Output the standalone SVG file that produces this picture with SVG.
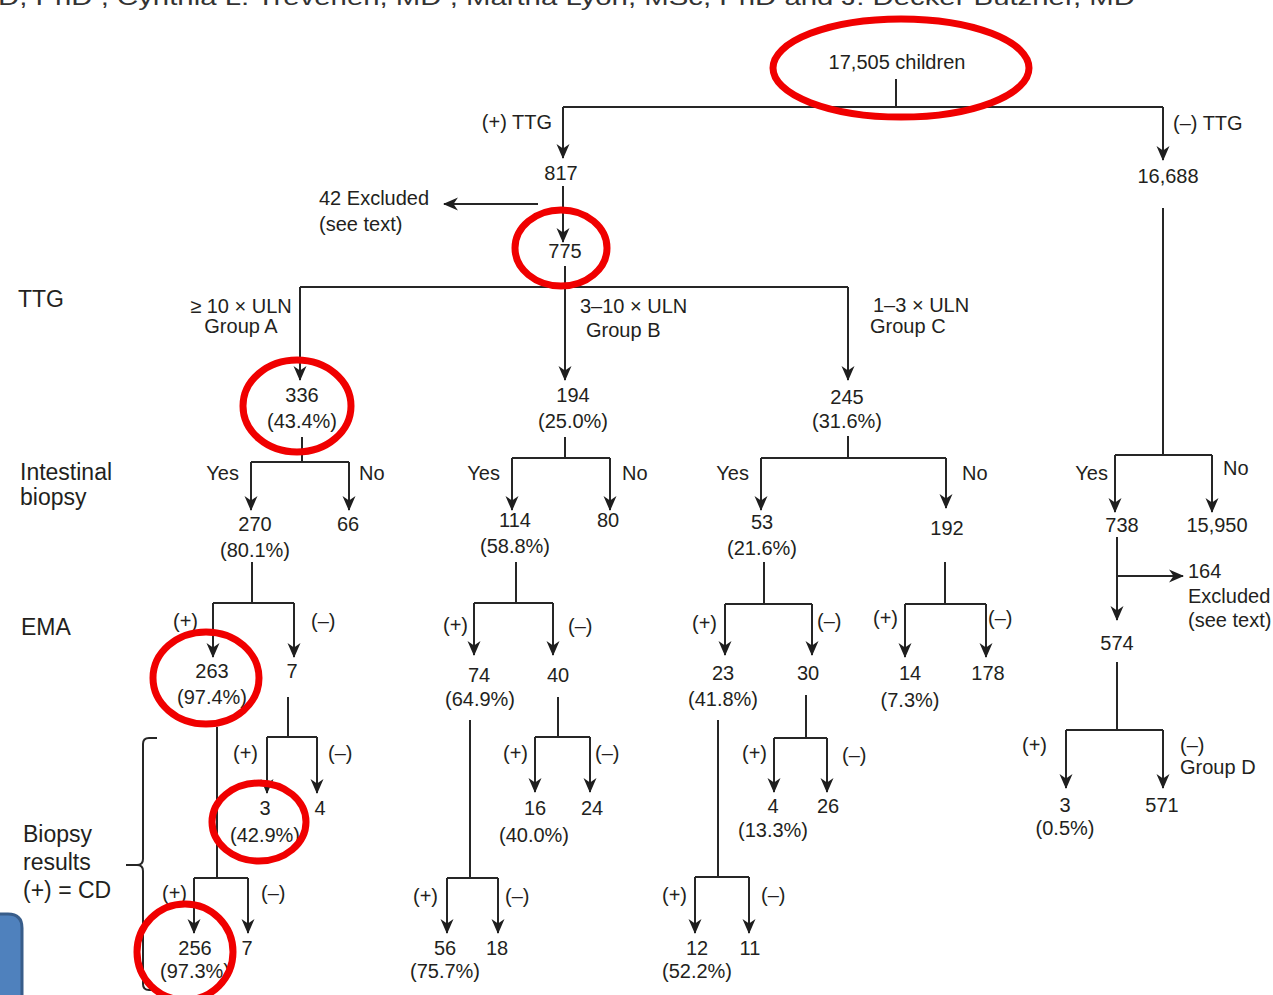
<svg xmlns="http://www.w3.org/2000/svg" width="1273" height="995" viewBox="0 0 1273 995">
  <style>
    text { font-family: "Liberation Sans", Arial, Helvetica, sans-serif; fill: #231f20; }
    .n { font-size: 20px; text-anchor: middle; }
    .l { font-size: 20px; }
    .e { font-size: 20px; text-anchor: end; }
    .row { font-size: 23px; }
    .hdr { font-size: 22px; fill: #333; }
    .wire { fill: none; stroke: #262626; stroke-width: 2; }
    .arr { fill: none; stroke: #262626; stroke-width: 2; marker-end: url(#ah); }
    .ring { fill: none; stroke: #f00000; stroke-width: 7; }
  </style>
  <defs>
    <marker id="ah" viewBox="0 -7 16 14" refX="14" refY="0" markerWidth="16" markerHeight="14" markerUnits="userSpaceOnUse" orient="auto">
      <path d="M0,-6.5 L15,0 L0,6.5 L4.5,0 z" fill="#1e1e1e"/>
    </marker>
  </defs>

  <rect width="1273" height="995" fill="#ffffff"/>

  <!-- author line, mostly cut off at the top edge -->
  <text class="hdr" x="-2" y="5" textLength="1137" lengthAdjust="spacingAndGlyphs">D, PhD , Cynthia L. Trevenen, MD , Martha Lyon, MSc, PhD  and J. Decker Butzner, MD</text>

  <!-- row captions -->
  <g id="row-labels">
    <text class="row" x="18" y="307">TTG</text>
    <text class="row" x="20" y="480">Intestinal</text>
    <text class="row" x="20" y="505">biopsy</text>
    <text class="row" x="21" y="635">EMA</text>
    <text class="row" x="23" y="842">Biopsy</text>
    <text class="row" x="23" y="870">results</text>
    <text class="row" x="23" y="898">(+) = CD</text>
  </g>

  <!-- connectors -->
  <g id="connectors">
    <!-- screening split -->
    <path class="wire" d="M896,79 V107 M563,107 H1163"/>
    <path class="arr" d="M563,107 V158"/>
    <path class="arr" d="M1163,107 V160"/>
    <path class="arr" d="M563,186 V242"/>
    <path class="arr" d="M538,204 H444"/>
    <path class="wire" d="M1163,208 V455"/>
    <!-- TTG level groups -->
    <path class="wire" d="M565,266 V287 M300,287 H848"/>
    <path class="arr" d="M300,287 V380"/>
    <path class="arr" d="M565,287 V380"/>
    <path class="arr" d="M848,287 V380"/>
    <!-- intestinal biopsy -->
    <path class="wire" d="M302,437 V462 M251,462 H349"/>
    <path class="arr" d="M251,462 V510"/>
    <path class="arr" d="M349,462 V510"/>
    <path class="wire" d="M565,437 V458 M512,458 H610"/>
    <path class="arr" d="M512,458 V510"/>
    <path class="arr" d="M610,458 V510"/>
    <path class="wire" d="M848,436 V458 M761,458 H946"/>
    <path class="arr" d="M761,458 V510"/>
    <path class="arr" d="M946,458 V508"/>
    <path class="wire" d="M1115,455 H1212"/>
    <path class="arr" d="M1115,455 V512"/>
    <path class="arr" d="M1212,455 V512"/>
    <!-- EMA -->
    <path class="wire" d="M252,562 V603 M213,603 H294"/>
    <path class="arr" d="M213,603 V657"/>
    <path class="arr" d="M294,603 V657"/>
    <path class="wire" d="M516,562 V603 M474,603 H553"/>
    <path class="arr" d="M474,603 V655"/>
    <path class="arr" d="M553,603 V655"/>
    <path class="wire" d="M764,562 V604 M725,604 H812"/>
    <path class="arr" d="M725,604 V655"/>
    <path class="arr" d="M812,604 V655"/>
    <path class="wire" d="M945,562 V604 M905,604 H986"/>
    <path class="arr" d="M905,604 V657"/>
    <path class="arr" d="M986,604 V657"/>
    <path class="arr" d="M1117,537 V620"/>
    <path class="arr" d="M1117,576 H1183"/>
    <path class="wire" d="M1117,662 V730 M1066,730 H1163"/>
    <path class="arr" d="M1066,730 V788"/>
    <path class="arr" d="M1163,730 V788"/>
    <!-- biopsy results -->
    <path class="wire" d="M217,727 V878 M194,878 H248"/>
    <path class="arr" d="M194,878 V933"/>
    <path class="arr" d="M248,878 V933"/>
    <path class="wire" d="M288,697 V737 M267,737 H317"/>
    <path class="arr" d="M267,737 V793"/>
    <path class="arr" d="M317,737 V793"/>
    <path class="wire" d="M470,720 V878 M447,878 H498"/>
    <path class="arr" d="M447,878 V933"/>
    <path class="arr" d="M498,878 V933"/>
    <path class="wire" d="M558,697 V737 M535,737 H590"/>
    <path class="arr" d="M535,737 V792"/>
    <path class="arr" d="M590,737 V792"/>
    <path class="wire" d="M718,720 V877 M695,877 H749"/>
    <path class="arr" d="M695,877 V933"/>
    <path class="arr" d="M749,877 V933"/>
    <path class="wire" d="M806,695 V738 M774,738 H827"/>
    <path class="arr" d="M774,738 V792"/>
    <path class="arr" d="M827,738 V792"/>
    <!-- bracket for the biopsy-results row -->
    <path class="wire" d="M157,738 H149 Q143,738 143,744 V859 Q143,865 137,865 H126 M137,865 Q143,865 143,871 V984 Q143,990 149,990 H157"/>
  </g>

  <!-- branch labels -->
  <g id="branch-labels">
    <text class="e" x="552" y="129">(+) TTG</text>
    <text class="l" x="1173" y="130">(–) TTG</text>
    <text class="n" x="241" y="313">≥ 10 × ULN</text>
    <text class="n" x="241" y="333">Group A</text>
    <text class="l" x="580" y="313">3–10 × ULN</text>
    <text class="l" x="586" y="337">Group B</text>
    <text class="l" x="873" y="312">1–3 × ULN</text>
    <text class="l" x="870" y="333">Group C</text>
    <text class="e" x="239" y="480">Yes</text>
    <text class="l" x="359" y="480">No</text>
    <text class="e" x="500" y="480">Yes</text>
    <text class="l" x="622" y="480">No</text>
    <text class="e" x="749" y="480">Yes</text>
    <text class="l" x="962" y="480">No</text>
    <text class="e" x="1108" y="480">Yes</text>
    <text class="l" x="1223" y="475">No</text>
    <text class="e" x="198" y="628">(+)</text>
    <text class="l" x="311" y="628">(–)</text>
    <text class="e" x="468" y="632">(+)</text>
    <text class="l" x="568" y="633">(–)</text>
    <text class="e" x="717" y="630">(+)</text>
    <text class="l" x="817" y="628">(–)</text>
    <text class="e" x="898" y="625">(+)</text>
    <text class="l" x="988" y="625">(–)</text>
    <text class="e" x="1047" y="752">(+)</text>
    <text class="l" x="1180" y="752">(–)</text>
    <text class="l" x="1180" y="774">Group  D</text>
    <text class="e" x="187" y="900">(+)</text>
    <text class="l" x="261" y="900">(–)</text>
    <text class="e" x="258" y="760">(+)</text>
    <text class="l" x="328" y="760">(–)</text>
    <text class="e" x="438" y="903">(+)</text>
    <text class="l" x="505" y="903">(–)</text>
    <text class="e" x="528" y="760">(+)</text>
    <text class="l" x="595" y="760">(–)</text>
    <text class="e" x="687" y="902">(+)</text>
    <text class="l" x="761" y="902">(–)</text>
    <text class="e" x="767" y="760">(+)</text>
    <text class="l" x="842" y="762">(–)</text>
  </g>

  <!-- count nodes -->
  <g id="n-root"><text class="n" x="897" y="69">17,505 children</text></g>
  <g id="n-817"><text class="n" x="561" y="180">817</text></g>
  <g id="n-16688"><text class="n" x="1168" y="183">16,688</text></g>
  <g id="n-excl42"><text class="l" x="319" y="205">42 Excluded</text><text class="l" x="319" y="231">(see text)</text></g>
  <g id="n-775"><text class="n" x="565" y="258">775</text></g>
  <g id="n-336"><text class="n" x="302" y="402">336</text><text class="n" x="302" y="428">(43.4%)</text></g>
  <g id="n-194"><text class="n" x="573" y="402">194</text><text class="n" x="573" y="428">(25.0%)</text></g>
  <g id="n-245"><text class="n" x="847" y="404">245</text><text class="n" x="847" y="428">(31.6%)</text></g>
  <g id="n-270"><text class="n" x="255" y="531">270</text><text class="n" x="255" y="557">(80.1%)</text></g>
  <g id="n-66"><text class="n" x="348" y="531">66</text></g>
  <g id="n-114"><text class="n" x="515" y="527">114</text><text class="n" x="515" y="553">(58.8%)</text></g>
  <g id="n-80"><text class="n" x="608" y="527">80</text></g>
  <g id="n-53"><text class="n" x="762" y="529">53</text><text class="n" x="762" y="555">(21.6%)</text></g>
  <g id="n-192"><text class="n" x="947" y="535">192</text></g>
  <g id="n-738"><text class="n" x="1122" y="532">738</text></g>
  <g id="n-15950"><text class="n" x="1217" y="532">15,950</text></g>
  <g id="n-263"><text class="n" x="212" y="678">263</text><text class="n" x="212" y="704">(97.4%)</text></g>
  <g id="n-7a"><text class="n" x="292" y="678">7</text></g>
  <g id="n-74"><text class="n" x="479" y="682">74</text><text class="n" x="480" y="706">(64.9%)</text></g>
  <g id="n-40"><text class="n" x="558" y="682">40</text></g>
  <g id="n-23"><text class="n" x="723" y="680">23</text><text class="n" x="723" y="706">(41.8%)</text></g>
  <g id="n-30"><text class="n" x="808" y="680">30</text></g>
  <g id="n-14"><text class="n" x="910" y="680">14</text><text class="n" x="910" y="707">(7.3%)</text></g>
  <g id="n-178"><text class="n" x="988" y="680">178</text></g>
  <g id="n-excl164"><text class="l" x="1188" y="578">164</text><text class="l" x="1188" y="603">Excluded</text><text class="l" x="1188" y="627">(see text)</text></g>
  <g id="n-574"><text class="n" x="1117" y="650">574</text></g>
  <g id="n-3d"><text class="n" x="1065" y="812">3</text><text class="n" x="1065" y="835">(0.5%)</text></g>
  <g id="n-571"><text class="n" x="1162" y="812">571</text></g>
  <g id="n-3a"><text class="n" x="265" y="815">3</text><text class="n" x="265" y="842">(42.9%)</text></g>
  <g id="n-4a"><text class="n" x="320" y="815">4</text></g>
  <g id="n-256"><text class="n" x="195" y="955">256</text><text class="n" x="195" y="978">(97.3%)</text></g>
  <g id="n-7b"><text class="n" x="247" y="955">7</text></g>
  <g id="n-16"><text class="n" x="535" y="815">16</text><text class="n" x="534" y="842">(40.0%)</text></g>
  <g id="n-24"><text class="n" x="592" y="815">24</text></g>
  <g id="n-56"><text class="n" x="445" y="955">56</text><text class="n" x="445" y="978">(75.7%)</text></g>
  <g id="n-18"><text class="n" x="497" y="955">18</text></g>
  <g id="n-4c"><text class="n" x="773" y="813">4</text><text class="n" x="773" y="837">(13.3%)</text></g>
  <g id="n-26"><text class="n" x="828" y="813">26</text></g>
  <g id="n-12"><text class="n" x="697" y="955">12</text><text class="n" x="697" y="978">(52.2%)</text></g>
  <g id="n-11"><text class="n" x="750" y="955">11</text></g>

  <!-- red highlight rings -->
  <g id="highlights">
    <ellipse class="ring" cx="901" cy="68" rx="128" ry="49"/>
    <ellipse class="ring" cx="561" cy="248" rx="46" ry="38"/>
    <ellipse class="ring" cx="297" cy="406" rx="54" ry="46"/>
    <ellipse class="ring" cx="206" cy="678" rx="53" ry="46"/>
    <ellipse class="ring" cx="259" cy="822" rx="47" ry="39"/>
    <ellipse class="ring" cx="185" cy="952" rx="48" ry="48"/>
  </g>

  <!-- blue slide shape at the lower-left edge -->
  <path d="M-10,914 H8 Q22,914 22,928 V1005 H-10 z" fill="#4f81bd" stroke="#385d8a" stroke-width="3"/>
</svg>
